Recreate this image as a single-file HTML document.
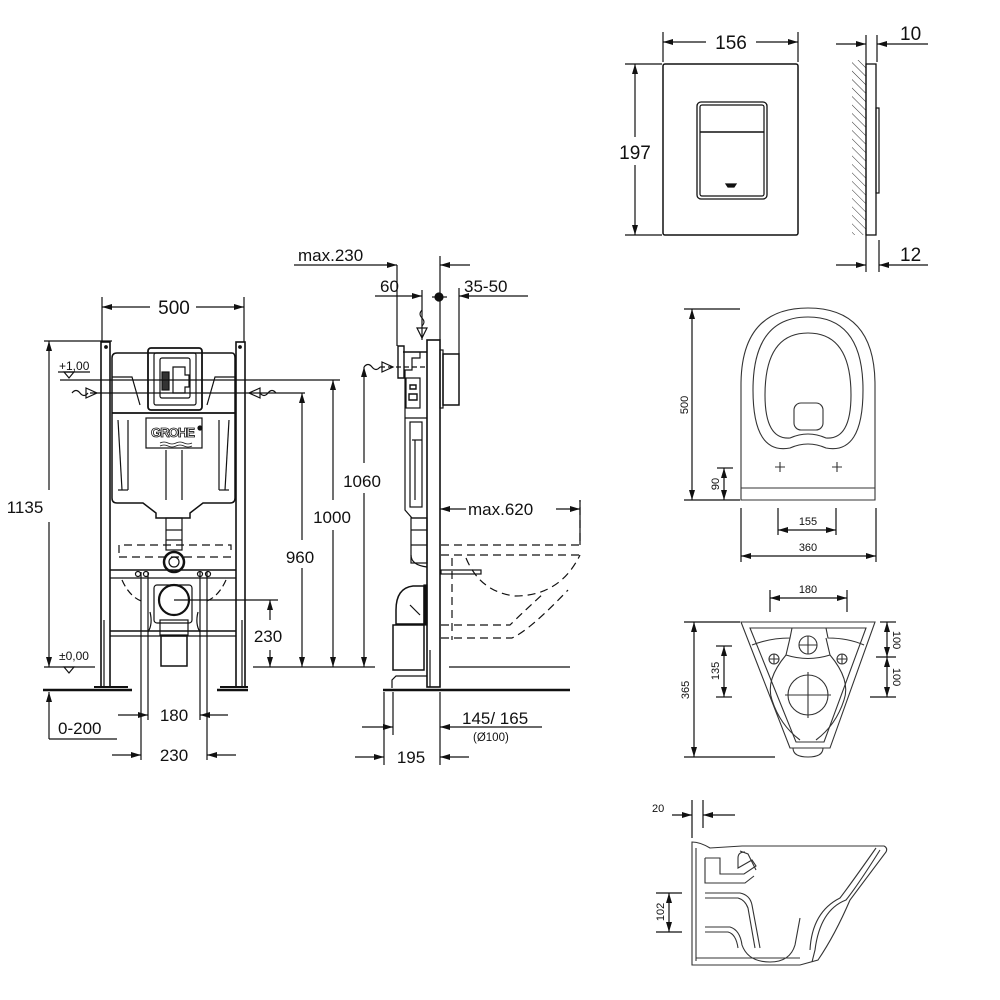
<!DOCTYPE html>
<html><head><meta charset="utf-8"><style>
html,body{margin:0;padding:0;background:#fff}
svg{display:block}
text{font-family:"Liberation Sans",Arial,sans-serif;fill:#111;stroke:none}
</style></head><body>
<svg width="1000" height="1000" viewBox="0 0 1000 1000" xmlns="http://www.w3.org/2000/svg">
<defs>
<marker id="a" viewBox="0 0 10 6" refX="10" refY="3" markerWidth="10" markerHeight="6" orient="auto-start-reverse" markerUnits="userSpaceOnUse"><path d="M0,0 L10,3 L0,6 z" fill="#111" stroke="none"/></marker>
<pattern id="h" width="6" height="6" patternUnits="userSpaceOnUse" patternTransform="rotate(-45)"><line x1="0" y1="0" x2="0" y2="6" stroke="#333" stroke-width="1"/></pattern>
</defs>
<g stroke="#111" fill="none" stroke-width="1.2">

<!-- ===== FRONT VIEW ===== -->
<line x1="102" y1="297" x2="102" y2="342"/><line x1="244" y1="297" x2="244" y2="342"/>
<line x1="102" y1="307" x2="150" y2="307" marker-start="url(#a)"/><line x1="196" y1="307" x2="244" y2="307" marker-end="url(#a)"/>
<text x="174" y="314" font-size="19" text-anchor="middle">500</text>
<rect x="101" y="342" width="9" height="345" stroke-width="1.6"/>
<rect x="236" y="342" width="9" height="345" stroke-width="1.6"/>
<line x1="104" y1="620" x2="104" y2="687"/><line x1="242" y1="620" x2="242" y2="687"/>
<circle cx="106" cy="347" r="1.3" fill="#111"/><circle cx="240" cy="347" r="1.3" fill="#111"/>
<line x1="43" y1="690" x2="132" y2="690" stroke-width="2.4"/>
<line x1="217" y1="690" x2="248" y2="690" stroke-width="2.4"/>
<line x1="383" y1="690" x2="570" y2="690" stroke-width="2.4"/>
<line x1="94" y1="687" x2="128" y2="687" stroke-width="2"/><line x1="220" y1="687" x2="248" y2="687" stroke-width="2"/>
<path d="M117,353 H232 Q235,353 235,358 V498 Q235,503 230,503 H203 L190,513 V518 H156 V513 L143,503 H117 Q112,503 112,498 V358 Q112,353 117,353 Z" stroke-width="1.5"/>
<line x1="112" y1="413" x2="235" y2="413" stroke-width="1.8"/>
<path d="M112,377 H132 L140,405 M235,377 H215 L207,405"/>
<line x1="118" y1="420" x2="122" y2="490"/><line x1="128" y1="420" x2="128" y2="490"/><line x1="118" y1="490" x2="128" y2="490"/>
<line x1="229" y1="420" x2="225" y2="490"/><line x1="219" y1="420" x2="219" y2="490"/><line x1="219" y1="490" x2="229" y2="490"/>
<line x1="166" y1="450" x2="166" y2="500"/><line x1="182" y1="450" x2="182" y2="500"/>
<rect x="148" y="348" width="54" height="62" rx="3" stroke-width="1.8"/>
<rect x="154" y="353" width="42" height="52" rx="2"/>
<rect x="160" y="358" width="30" height="40" rx="2"/>
<rect x="162" y="372" width="7" height="18" fill="#333"/>
<path d="M173,367 h12 v8 h4 v12 h-4 v6 h-12 z"/>
<rect x="146" y="418" width="56" height="30" stroke-width="1.2"/>
<text x="151" y="437" font-size="13" font-weight="bold" style="fill:#fff;stroke:#111;stroke-width:0.8" textLength="44">GROHE</text>
<circle cx="200" cy="428" r="2" fill="#111"/>
<path d="M160,443 q4,-2 8,0 t8,0 t8,0 t8,0 M160,446 q4,-2 8,0 t8,0 t8,0 t8,0" stroke-width="0.8"/>
<rect x="166" y="518" width="16" height="32"/>
<line x1="166" y1="530" x2="182" y2="530"/><line x1="166" y1="540" x2="182" y2="540"/>
<circle cx="174" cy="562" r="10" stroke-width="2.5"/><circle cx="174" cy="562" r="5"/>
<path d="M119,553 V545 H231 V553 M119,557 H231" stroke-dasharray="8,5"/>
<line x1="110" y1="570" x2="236" y2="570" stroke-width="1.5"/><line x1="110" y1="578" x2="236" y2="578"/>
<line x1="110" y1="631" x2="236" y2="631" stroke-width="1.5"/><line x1="110" y1="636" x2="236" y2="636"/>
<circle cx="138" cy="574" r="2.5"/><circle cx="146" cy="574" r="2.5"/><circle cx="200" cy="574" r="2.5"/><circle cx="208" cy="574" r="2.5"/>
<path d="M122,580 q8,18 22,22 M226,580 q-8,18 -22,22" stroke-dasharray="7,4"/>
<rect x="154" y="585" width="38" height="38" rx="3"/>
<circle cx="174" cy="600" r="15" stroke-width="2.2"/>
<rect x="160" y="620" width="28" height="15"/>
<rect x="161" y="636" width="26" height="30" stroke-width="1.5"/>
<path d="M150,612 q3,12 -2,20 M198,612 q-3,12 2,20"/>
<line x1="141" y1="572" x2="141" y2="760"/><line x1="148" y1="572" x2="148" y2="720"/>
<line x1="200" y1="572" x2="200" y2="720"/><line x1="207" y1="572" x2="207" y2="760"/>
<line x1="174" y1="600" x2="278" y2="600"/>
<line x1="60" y1="380" x2="340" y2="380"/>
<line x1="90" y1="393" x2="305" y2="393"/>
<path d="M72,393 q4,-5 8,0 t8,0" /><path d="M86,388 L97,393 L86,398 Z"/>
<path d="M276,393 q-4,-5 -8,0 t-8,0"/><path d="M260,388 L249,393 L260,398 Z"/>
<line x1="58" y1="372" x2="90" y2="372"/><path d="M64,372 L74,372 L69,378 Z"/>
<text x="59" y="370" font-size="12">+1,00</text>
<line x1="44" y1="667" x2="95" y2="667"/><path d="M64,667 L74,667 L69,673 Z"/>
<text x="59" y="660" font-size="12">±0,00</text>
<line x1="44" y1="341" x2="112" y2="341"/>
<line x1="49" y1="341" x2="49" y2="490" marker-start="url(#a)"/><line x1="49" y1="522" x2="49" y2="667" marker-end="url(#a)"/>
<text x="25" y="513" font-size="17" text-anchor="middle">1135</text>
<line x1="49" y1="692" x2="49" y2="739" marker-start="url(#a)"/><line x1="49" y1="739" x2="117" y2="739"/>
<text x="58" y="734" font-size="17">0-200</text>
<line x1="118" y1="715" x2="148" y2="715" marker-end="url(#a)"/><line x1="228" y1="715" x2="200" y2="715" marker-end="url(#a)"/>
<text x="174" y="721" font-size="17" text-anchor="middle">180</text>
<line x1="112" y1="755" x2="141" y2="755" marker-end="url(#a)"/><line x1="236" y1="755" x2="207" y2="755" marker-end="url(#a)"/>
<text x="174" y="761" font-size="17" text-anchor="middle">230</text>
<line x1="253" y1="667" x2="375" y2="667"/>
<line x1="270" y1="600" x2="270" y2="620" marker-start="url(#a)"/><line x1="270" y1="650" x2="270" y2="667" marker-end="url(#a)"/>
<text x="268" y="642" font-size="17" text-anchor="middle">230</text>
<line x1="302" y1="393" x2="302" y2="540" marker-start="url(#a)"/><line x1="302" y1="568" x2="302" y2="667" marker-end="url(#a)"/>
<text x="300" y="563" font-size="17" text-anchor="middle">960</text>
<line x1="333" y1="380" x2="333" y2="500" marker-start="url(#a)"/><line x1="333" y1="530" x2="333" y2="667" marker-end="url(#a)"/>
<text x="332" y="523" font-size="17" text-anchor="middle">1000</text>
<line x1="364" y1="367" x2="364" y2="463" marker-start="url(#a)"/><line x1="364" y1="493" x2="364" y2="667" marker-end="url(#a)"/>
<text x="362" y="487" font-size="17" text-anchor="middle">1060</text>

<!-- ===== SIDE VIEW ===== -->
<rect x="427" y="340" width="13" height="347" stroke-width="1.6"/>
<line x1="430" y1="650" x2="430" y2="687"/>
<rect x="440" y="350" width="3" height="58"/>
<rect x="443" y="354" width="16" height="51" stroke-width="1.5"/>
<path d="M403,352 H427 M398,346 L404,346 L404,378 L398,378 Z" stroke-width="1.4"/>
<path d="M420,352 V358 H412 V370 H405 V510 L412,518 H427"/>
<path d="M380,367 H426" stroke-dasharray="5,3"/>
<path d="M364,367 q4,-5 8,0 t8,0"/><path d="M382,362 L393,367 L382,372 Z"/>
<rect x="406" y="378" width="14" height="30"/>
<path d="M410,385 h6 v4 h-6 z M409,394 h8 v6 h-8 z" stroke-width="1.4"/>
<line x1="405" y1="418" x2="427" y2="418"/>
<rect x="410" y="422" width="12" height="85"/><line x1="412" y1="440" x2="422" y2="440"/><line x1="415" y1="440" x2="415" y2="500"/>
<rect x="411" y="518" width="16" height="45"/><line x1="411" y1="530" x2="427" y2="530"/><line x1="411" y1="545" x2="427" y2="545"/>
<path d="M411,555 q0,10 16,12"/>
<path d="M424,586 H413 Q396,588 396,610 V624 H424 Z" stroke-width="1.5"/>
<rect x="424" y="585" width="3" height="40" fill="#111"/>
<line x1="410" y1="605" x2="420" y2="615"/>
<rect x="393" y="625" width="31" height="45" stroke-width="1.5"/>
<path d="M392,688 V680 L396,676 H427"/>
<g stroke-dasharray="8,5">
<path d="M441,545 H580 V500"/>
<path d="M441,555 H580"/>
<path d="M452,558 V640"/>
<path d="M466,558 Q480,592 515,596 Q560,596 580,555"/>
<path d="M441,625 H510 Q520,615 545,592"/>
<path d="M441,638 H512 Q530,630 568,590"/>
</g>
<rect x="441" y="570" width="40" height="4"/>
<line x1="449" y1="667" x2="570" y2="667"/>
<line x1="397" y1="265" x2="397" y2="346"/><line x1="294" y1="265" x2="397" y2="265" marker-end="url(#a)"/>
<text x="298" y="261" font-size="17">max.230</text>
<line x1="422" y1="290" x2="422" y2="340"/><line x1="375" y1="296" x2="422" y2="296" marker-end="url(#a)"/>
<text x="380" y="292" font-size="17">60</text>
<line x1="440" y1="256" x2="440" y2="340"/>
<line x1="470" y1="265" x2="440" y2="265" marker-end="url(#a)"/>
<circle cx="439" cy="297" r="4" fill="#111"/><line x1="432" y1="297" x2="447" y2="297"/>
<line x1="459" y1="288" x2="459" y2="354"/><line x1="528" y1="296" x2="459" y2="296" marker-end="url(#a)"/>
<text x="464" y="292" font-size="17">35-50</text>
<path d="M422,310 q-4,4 0,8 t0,8" stroke-width="1"/><path d="M417,328 L427,328 L422,338 Z"/>
<line x1="580" y1="500" x2="580" y2="545"/>
<line x1="466" y1="509" x2="440" y2="509" marker-end="url(#a)"/><line x1="556" y1="509" x2="580" y2="509" marker-end="url(#a)"/>
<text x="468" y="515" font-size="17">max.620</text>
<line x1="384" y1="692" x2="384" y2="765"/><line x1="393" y1="692" x2="393" y2="735"/><line x1="440" y1="692" x2="440" y2="765"/>
<line x1="362" y1="727" x2="393" y2="727" marker-end="url(#a)"/><line x1="542" y1="727" x2="440" y2="727" marker-end="url(#a)"/>
<text x="462" y="724" font-size="17">145/ 165</text>
<text x="473" y="741" font-size="11.5">(Ø100)</text>
<line x1="355" y1="757" x2="384" y2="757" marker-end="url(#a)"/><line x1="469" y1="757" x2="440" y2="757" marker-end="url(#a)"/>
<text x="411" y="763" font-size="17" text-anchor="middle">195</text>

<!-- ===== FLUSH PLATE ===== -->
<rect x="663" y="64" width="135" height="171" rx="2" stroke-width="1.5"/>
<rect x="697" y="102" width="70" height="97" rx="4" stroke-width="1.3"/>
<rect x="700" y="105" width="64" height="91" rx="2"/>
<line x1="700" y1="132" x2="764" y2="132" stroke-width="1.5"/>
<path d="M726,184 h10 l-2,3 h-6 z" fill="#111"/>
<line x1="663" y1="32" x2="663" y2="62"/><line x1="798" y1="32" x2="798" y2="62"/>
<line x1="663" y1="42" x2="706" y2="42" marker-start="url(#a)"/><line x1="756" y1="42" x2="798" y2="42" marker-end="url(#a)"/>
<text x="731" y="49" font-size="19" text-anchor="middle">156</text>
<line x1="625" y1="64" x2="662" y2="64"/><line x1="625" y1="235" x2="662" y2="235"/>
<line x1="635" y1="64" x2="635" y2="137" marker-start="url(#a)"/><line x1="635" y1="165" x2="635" y2="235" marker-end="url(#a)"/>
<text x="635" y="159" font-size="19" text-anchor="middle">197</text>
<rect x="852" y="60" width="14" height="175" fill="url(#h)" stroke="none"/>
<line x1="866" y1="35" x2="866" y2="272"/>
<rect x="866" y="64" width="10" height="171" stroke-width="1.3"/>
<rect x="876" y="108" width="3" height="85"/>
<line x1="877" y1="35" x2="877" y2="62"/><line x1="879" y1="240" x2="879" y2="272"/>
<line x1="836" y1="44" x2="866" y2="44" marker-end="url(#a)"/><line x1="928" y1="44" x2="877" y2="44" marker-end="url(#a)"/>
<text x="900" y="40" font-size="19">10</text>
<line x1="836" y1="265" x2="866" y2="265" marker-end="url(#a)"/><line x1="928" y1="265" x2="879" y2="265" marker-end="url(#a)"/>
<text x="900" y="261" font-size="19">12</text>

<!-- ===== TOILET TOP ===== -->
<g stroke-width="1.1" stroke="#333">
<path d="M741,500 V385 Q741,308 808,308 Q875,308 875,385 V500 Z"/>
<line x1="741" y1="488" x2="875" y2="488"/>
<path d="M808,317 Q753,317 753,390 Q753,455 790,448 Q808,440 826,448 Q863,455 863,390 Q863,317 808,317 Z"/>
<path d="M808,333 Q765,333 765,395 Q765,440 790,438 Q808,430 826,438 Q851,440 851,395 Q851,333 808,333 Z"/>
<rect x="794" y="403" width="29" height="27" rx="7"/>
<path d="M775,467 h10 M780,462 v10 M832,467 h10 M837,462 v10"/>
</g>
<line x1="684" y1="309" x2="740" y2="309"/><line x1="684" y1="500" x2="740" y2="500"/>
<line x1="692" y1="309" x2="692" y2="500" marker-start="url(#a)" marker-end="url(#a)"/>
<text font-size="11" transform="translate(688,405) rotate(-90)" text-anchor="middle">500</text>
<line x1="717" y1="468" x2="733" y2="468"/>
<line x1="724" y1="468" x2="724" y2="500" marker-start="url(#a)" marker-end="url(#a)"/>
<text font-size="11" transform="translate(719,484) rotate(-90)" text-anchor="middle">90</text>
<line x1="778" y1="508" x2="778" y2="535"/><line x1="836" y1="508" x2="836" y2="535"/>
<line x1="778" y1="530" x2="836" y2="530" marker-start="url(#a)" marker-end="url(#a)"/>
<text x="808" y="525" font-size="11" text-anchor="middle">155</text>
<line x1="741" y1="508" x2="741" y2="562"/><line x1="876" y1="508" x2="876" y2="562"/>
<line x1="741" y1="556" x2="876" y2="556" marker-start="url(#a)" marker-end="url(#a)"/>
<text x="808" y="551" font-size="11" text-anchor="middle">360</text>

<!-- ===== TOILET BACK ===== -->
<g stroke-width="1.1" stroke="#333">
<path d="M741,622 H875 L830,748 H790 Z"/>
<path d="M750,628 H866 L824,742 H796 Z"/>
<path d="M793,748 Q793,757 808,757 Q823,757 823,748"/>
<path d="M752,645 Q770,638 790,638 L792,628 H826 L828,638 Q848,638 864,645"/>
<path d="M790,638 L786,655 Q808,662 830,655 L826,638"/>
<path d="M786,655 Q765,680 772,700 Q780,725 800,740 M830,655 Q851,680 844,700 Q836,725 816,740"/>
<circle cx="808" cy="645" r="9"/><path d="M799,645 h18 M808,636 v18"/>
<circle cx="774" cy="659" r="5"/><path d="M769,659 h10 M774,654 v10"/>
<circle cx="842" cy="659" r="5"/><path d="M837,659 h10 M842,654 v10"/>
<circle cx="808" cy="695" r="20"/><path d="M785,695 h46 M808,672 v46"/>
</g>
<line x1="770" y1="590" x2="770" y2="612"/><line x1="847" y1="590" x2="847" y2="612"/>
<line x1="770" y1="598" x2="847" y2="598" marker-start="url(#a)" marker-end="url(#a)"/>
<text x="808" y="593" font-size="11" text-anchor="middle">180</text>
<line x1="684" y1="622" x2="740" y2="622"/><line x1="684" y1="757" x2="775" y2="757"/>
<line x1="694" y1="622" x2="694" y2="757" marker-start="url(#a)" marker-end="url(#a)"/>
<text font-size="11" transform="translate(689,690) rotate(-90)" text-anchor="middle">365</text>
<line x1="716" y1="646" x2="732" y2="646"/><line x1="716" y1="697" x2="732" y2="697"/>
<line x1="724" y1="646" x2="724" y2="697" marker-start="url(#a)" marker-end="url(#a)"/>
<text font-size="11" transform="translate(719,671) rotate(-90)" text-anchor="middle">135</text>
<line x1="880" y1="622" x2="896" y2="622"/><line x1="876" y1="657" x2="896" y2="657"/><line x1="870" y1="697" x2="896" y2="697"/>
<line x1="887" y1="622" x2="887" y2="657" marker-start="url(#a)" marker-end="url(#a)"/>
<line x1="887" y1="657" x2="887" y2="697" marker-start="url(#a)" marker-end="url(#a)"/>
<text font-size="11" transform="translate(893,640) rotate(90)" text-anchor="middle">100</text>
<text font-size="11" transform="translate(893,677) rotate(90)" text-anchor="middle">100</text>

<!-- ===== TOILET SIDE ===== -->
<g stroke-width="1.1" stroke="#333">
<path d="M692,965 V842 Q700,842 710,848 L742,846 L884,846 Q888,848 886,852 L850,900 Q835,935 818,960 L800,965 Z"/>
<path d="M696,961 V848"/>
<path d="M705,858 H720 V874 H744 L756,866 L752,860 L738,868 V858 Q738,852 745,852"/>
<path d="M705,858 V883 H745 L754,876"/>
<path d="M740,851 L748,854 L756,870"/>
<path d="M880,850 Q858,885 846,900 Q820,910 815,950 L812,962 M876,848 Q850,885 840,898 Q812,912 810,950"/>
<path d="M705,893 H740 Q750,895 752,905 L760,948 M705,898 H738 Q745,900 748,908 L755,948"/>
<path d="M705,927 H730 Q740,930 742,945 Q748,962 770,962 Q790,962 795,945 L800,918"/>
<path d="M705,932 H728 Q736,934 738,948"/>
<path d="M696,958 H800"/>
</g>
<line x1="692" y1="800" x2="692" y2="838"/><line x1="703" y1="800" x2="703" y2="828"/>
<line x1="672" y1="815" x2="692" y2="815" marker-end="url(#a)"/><line x1="735" y1="815" x2="703" y2="815" marker-end="url(#a)"/>
<text x="652" y="812" font-size="11">20</text>
<line x1="656" y1="893" x2="682" y2="893"/><line x1="656" y1="932" x2="682" y2="932"/>
<line x1="669" y1="893" x2="669" y2="932" marker-start="url(#a)" marker-end="url(#a)"/>
<text font-size="11" transform="translate(664,912) rotate(-90)" text-anchor="middle">102</text>
</g>
</svg>
</body></html>
